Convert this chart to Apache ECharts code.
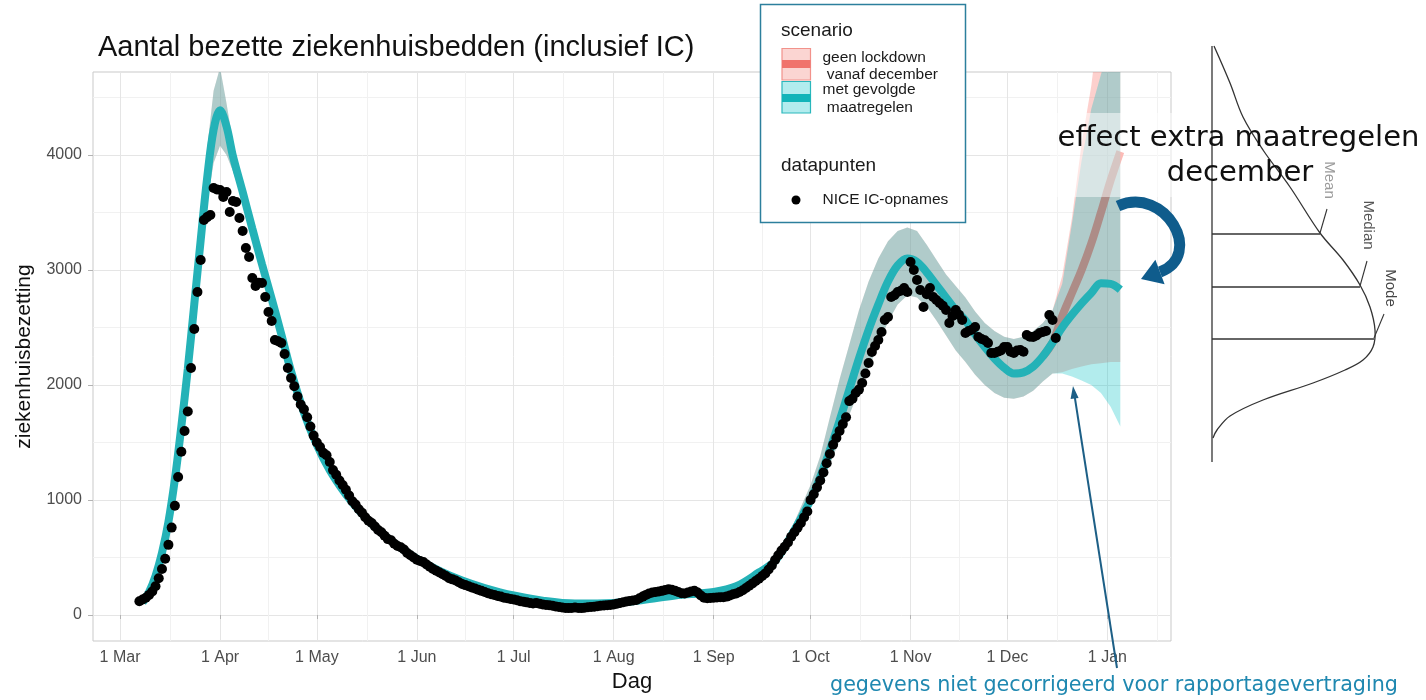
<!DOCTYPE html>
<html>
<head>
<meta charset="utf-8">
<script src="https://cdn.jsdelivr.net/npm/echarts@6/dist/echarts.min.js"></script>
<style>html,body{margin:0;padding:0;background:#fff}#chart{width:1426px;height:700px}</style>
</head>
<body>
<div id="chart"></div>
<script>
// ---------------- DATA ----------------
const DAY = 86400000;
const monthLabels = ['Jan','Feb','Mar','Apr','May','Jun','Jul','Aug','Sep','Oct','Nov','Dec'];
const xTickDates = ['2020-03-01','2020-04-01','2020-05-01','2020-06-01','2020-07-01','2020-08-01','2020-09-01','2020-10-01','2020-11-01','2020-12-01','2021-01-01','2021-02-01'];
const yTicks = [0, 1000, 2000, 3000, 4000];

// NICE datapoints, one value per day starting at this date
const dotStartDate = '2020-03-07';
const dotMar = [120,135,150,175,205,250,320,400,490,610,760,950,1200,1420,1600,1770,2148,2487,2809,3087,3435,3460,3478,3713,3700];
const dotApr = [3696,3635,3678,3504,3600,3591,3452,3339,3191,3113,2930,2861,2890,2887,2765,2635,2557,2391,2380,2365,2270,2148,2061,1990,1900,1830,1790,1720,1640,1560];
const dotMay = [1500,1460,1410,1390,1330,1260,1220,1170,1130,1090,1040,990,960,920,890,850,820,800,770,740,720,690,660,650,620,600,590,570,540,520,500];
const dotJun = [480,470,460,440,420,400,385,370,355,340,320,310,300,285,270,260,250,240,230,220,210,200,190,180,175,165,160,150,145,140];
const dotJul = [135,128,120,115,110,105,100,104,98,92,88,85,80,75,70,65,62,60,62,65,62,60,63,68,70,72,76,80,83,85,88];
const dotAug = [92,98,105,112,118,122,126,130,145,160,175,188,195,200,205,210,218,223,220,212,200,190,188,195,205,211,195,170,150,145,148];
const dotSep = [150,152,155,154,160,170,180,188,200,215,235,255,275,295,315,340,362,395,430,478,520,560,594,630,680,720,760,800,850,900];
const dotOct = [1000,1050,1110,1170,1240,1320,1400,1480,1540,1600,1660,1720,1860,1880,1930,1960,2017,2100,2191,2287,2340,2391,2461,2565,2591,2765,2780,2809,2820,2843,2809];
const dotNov = [3070,3000,2913,2826,2678,2790,2843,2765,2740,2713,2690,2652,2539,2600,2652,2610,2565,2452,2470,2480,2504,2417,2400,2390,2365,2278,2278,2290,2300,2330];
const dotDec = [2330,2290,2278,2300,2304,2290,2435,2420,2417,2430,2452,2461,2470,2609,2565,2409];

// model (shared by both scenarios until mid December)
const modelDates = ['2020-03-08','2020-03-10','2020-03-12','2020-03-14','2020-03-16','2020-03-18','2020-03-20','2020-03-22','2020-03-24','2020-03-26','2020-03-28','2020-03-30',
  '2020-04-01','2020-04-03','2020-04-05','2020-04-08','2020-04-11','2020-04-14','2020-04-17','2020-04-20','2020-04-23','2020-04-27',
  '2020-05-01','2020-05-05','2020-05-10','2020-05-15','2020-05-20','2020-05-25',
  '2020-06-01','2020-06-08','2020-06-15','2020-06-22','2020-07-01','2020-07-10','2020-07-20','2020-08-01','2020-08-10','2020-08-20',
  '2020-09-01','2020-09-08','2020-09-15','2020-09-20','2020-09-25',
  '2020-10-01','2020-10-04','2020-10-07','2020-10-10','2020-10-13','2020-10-16','2020-10-19','2020-10-22','2020-10-25','2020-10-28','2020-10-31',
  '2020-11-03','2020-11-06','2020-11-09','2020-11-12','2020-11-15','2020-11-18','2020-11-21','2020-11-24','2020-11-27','2020-11-30',
  '2020-12-03','2020-12-06','2020-12-09','2020-12-12','2020-12-15'];
const modelMedian = [110,200,340,540,810,1180,1640,2140,2700,3260,3800,4220,
  4390,4250,3990,3680,3360,3050,2750,2440,2120,1760,
  1480,1260,1050,880,740,625,
  490,385,300,235,170,125,100,105,130,170,
  200,250,370,470,690,
  1000,1200,1435,1690,1960,2230,2480,2700,2900,3040,3100,
  3070,2980,2870,2760,2650,2560,2440,2330,2230,2150,
  2100,2110,2160,2250,2370];
const modelLower = [100,185,318,508,765,1120,1560,2040,2570,3090,3580,3930,
  4080,4000,3860,3600,3280,2970,2680,2380,2070,1715,
  1445,1225,1018,852,717,602,
  472,370,287,224,160,116,91,96,119,156,
  186,234,348,443,648,
  940,1110,1310,1520,1740,1950,2150,2350,2550,2700,2780,
  2760,2680,2560,2430,2300,2200,2090,2000,1930,1890,
  1880,1900,1950,2030,2100];
const modelUpper = [120,215,362,572,855,1240,1720,2250,2840,3450,4060,4560,
  4760,4450,4110,3760,3440,3130,2820,2500,2170,1805,
  1515,1295,1082,908,763,648,
  508,400,313,246,180,134,109,116,143,184,
  216,268,395,505,745,
  1130,1380,1720,2050,2350,2650,2900,3100,3250,3340,3370,
  3340,3220,3090,2960,2860,2760,2640,2540,2470,2420,
  2400,2420,2470,2540,2650];

// projections after mid December
const tailDates = ['2020-12-18','2020-12-21','2020-12-24','2020-12-27','2020-12-30','2021-01-02','2021-01-05'];
const measuresMedian = [2500,2610,2710,2800,2885,2880,2830];   // met gevolgde maatregelen
const measuresLower  = [2100,2075,2040,2000,1930,1810,1640];
const measuresUpper  = [2880,3400,3950,4400,4700,5000,5350];
const noLockMedian   = [2600,2800,3000,3230,3500,3780,4030];   // geen lockdown vanaf december
const noLockLower    = [2110,2140,2160,2180,2190,2200,2200];
const noLockUpper    = [2950,3450,4100,4600,5300,6000,6600];

// ---------------- BUILD ----------------
const FONT = '"Liberation Sans", Arial, Helvetica, sans-serif';
const DJ = '"DejaVu Sans", Verdana, sans-serif';
const t = s => Date.parse(s + 'T00:00:00Z');
const dotValues = [].concat(dotMar, dotApr, dotMay, dotJun, dotJul, dotAug, dotSep, dotOct, dotNov, dotDec);
const dotT0 = t(dotStartDate);
const dots = dotValues.map((v, i) => [dotT0 + i * DAY, v]);

const majorX = xTickDates.map(t);
const majorXShown = majorX.slice(0, -1);
const minorX = majorX.slice(0, -1).map((v, i) => (v + majorX[i + 1]) / 2);

function rows(dates, a) { return dates.map((d, i) => [t(d), a[i]]); }
function band(dates, lo, hi) { return dates.map((d, i) => [t(d), lo[i], hi[i]]); }
const allDates = modelDates.concat(tailDates);
const measuresLine = rows(allDates, modelMedian.concat(measuresMedian));
const noLockLine = rows(modelDates.slice(-2).concat(tailDates), modelMedian.slice(-2).concat(noLockMedian));
const measuresBand = band(allDates, modelLower.concat(measuresLower), modelUpper.concat(measuresUpper));
const noLockBand = band(allDates, modelLower.concat(noLockLower), modelUpper.concat(noLockUpper));

function bandSeries(name, data, fill, z) {
  return {
    type: 'custom', name, data, silent: true, clip: true, z: z,
    encode: { x: 0, y: [1, 2] },
    renderItem(params, api) {
      if (params.dataIndex !== 0) return null;
      const top = data.map(p => api.coord([p[0], p[2]]));
      const bot = data.map(p => api.coord([p[0], p[1]])).reverse();
      const cs = params.coordSys;
      return {
        type: 'polygon',
        shape: { points: top.concat(bot) },
        style: { fill: fill },
        clipPath: { type: 'rect', shape: { x: cs.x, y: cs.y, width: cs.width, height: cs.height } }
      };
    }
  };
}

const txt = (text, x, y, size, color, align, extra, fam) => Object.assign({
  type: 'text', x: x, y: y, silent: true,
  style: { text: text, fill: color, font: size + 'px ' + (fam || FONT), align: align || 'left', verticalAlign: 'middle',
           textAlign: align || 'left', textVerticalAlign: 'middle' }
}, extra || {});

const arrowBlue = '#0f5c8c';

const graphics = [
  // legend box
  { type: 'rect', shape: { x: 760.5, y: 4.5, width: 205, height: 218 }, style: { fill: '#fff', stroke: '#2c7f9d', lineWidth: 1.5 }, z: 100 },
  txt('scenario', 781, 31, 19, '#1a1a1a', 'left', { z: 101 }),
  { type: 'rect', shape: { x: 782, y: 48.5, width: 28.5, height: 31.5 }, style: { fill: '#fbd5d2', stroke: '#f2928b', lineWidth: 1.2 }, z: 101 },
  { type: 'rect', shape: { x: 782, y: 60, width: 28.5, height: 8 }, style: { fill: '#f0736c' }, z: 102 },
  { type: 'rect', shape: { x: 782, y: 81.5, width: 28.5, height: 31.5 }, style: { fill: '#b2ecee', stroke: '#2ab7bc', lineWidth: 1.2 }, z: 101 },
  { type: 'rect', shape: { x: 782, y: 94, width: 28.5, height: 8 }, style: { fill: '#12b4b9' }, z: 102 },
  txt('geen lockdown', 822.5, 57.5, 15.5, '#1a1a1a', 'left', { z: 101 }),
  txt(' vanaf december', 822.5, 74.5, 15.5, '#1a1a1a', 'left', { z: 101 }),
  txt('met gevolgde', 822.5, 90, 15.5, '#1a1a1a', 'left', { z: 101 }),
  txt(' maatregelen', 822.5, 107.5, 15.5, '#1a1a1a', 'left', { z: 101 }),
  txt('datapunten', 781, 166, 19, '#1a1a1a', 'left', { z: 101 }),
  { type: 'circle', shape: { cx: 796, cy: 200, r: 4.5 }, style: { fill: '#000' }, z: 101 },
  txt('NICE IC-opnames', 822.5, 200, 15.5, '#1a1a1a', 'left', { z: 101 }),

  // semi-transparent box behind the annotation
  { type: 'rect', shape: { x: 1050, y: 113, width: 376, height: 84 }, style: { fill: 'rgba(255,255,255,0.5)' }, z: 90 },

  // distribution sketch
  { type: 'line', shape: { x1: 1212, y1: 46, x2: 1212, y2: 462 }, style: { stroke: '#333', lineWidth: 1.3 }, z: 95 },
  { type: 'polyline', shape: { smooth: 0.35, points: [[1214,46],[1230,83],[1243,117],[1263,150],[1290,187],[1320,233],[1343,260],[1360,285],[1370,307],[1375,330],[1373,347],[1363,360],[1345,370],[1313,383],[1263,400],[1230,416],[1217,430],[1213,438]] }, style: { stroke: '#333', lineWidth: 1.3, fill: null }, z: 95 },
  { type: 'line', shape: { x1: 1212, y1: 234, x2: 1320, y2: 234 }, style: { stroke: '#333', lineWidth: 1.3 }, z: 95 },
  { type: 'line', shape: { x1: 1212, y1: 287, x2: 1360, y2: 287 }, style: { stroke: '#333', lineWidth: 1.3 }, z: 95 },
  { type: 'line', shape: { x1: 1212, y1: 339, x2: 1374, y2: 339 }, style: { stroke: '#333', lineWidth: 1.3 }, z: 95 },
  { type: 'line', shape: { x1: 1320, y1: 233, x2: 1327, y2: 209 }, style: { stroke: '#333', lineWidth: 1.1 }, z: 95 },
  { type: 'line', shape: { x1: 1360, y1: 286, x2: 1367, y2: 261 }, style: { stroke: '#333', lineWidth: 1.1 }, z: 95 },
  { type: 'line', shape: { x1: 1374, y1: 338, x2: 1384, y2: 314 }, style: { stroke: '#333', lineWidth: 1.1 }, z: 95 },
  txt('Mean', 1329, 180, 15, '#9a9a9a', 'center', { rotation: -Math.PI / 2, z: 96 }),
  txt('Median', 1368, 225, 15, '#555', 'center', { rotation: -Math.PI / 2, z: 96 }),
  txt('Mode', 1390, 288, 15, '#444', 'center', { rotation: -Math.PI / 2, z: 96 }),

  // annotation text
  txt('effect extra maatregelen', 1238.5, 138, 29, '#111', 'center', { z: 97 }, DJ),
  txt('december', 1240, 173, 29, '#111', 'center', { z: 97 }, DJ),

  // curved arrow
  { type: 'bezierCurve', shape: { x1: 1118, y1: 206, cpx1: 1165, cpy1: 185, cpx2: 1205, cpy2: 255, x2: 1160, y2: 272 }, style: { stroke: arrowBlue, lineWidth: 11, fill: null }, z: 98 },
  { type: 'polygon', shape: { points: [[1141, 279], [1164.6, 284.2], [1155.4, 259.8]] }, style: { fill: arrowBlue }, z: 98 },

  // straight arrow + note
  { type: 'line', shape: { x1: 1117, y1: 668, x2: 1074.6, y2: 396 }, style: { stroke: '#1d5f86', lineWidth: 2 }, z: 98 },
  { type: 'polygon', shape: { points: [[1073, 386], [1078.6, 398], [1070.6, 399]] }, style: { fill: '#1d5f86' }, z: 98 },
  txt('gegevens niet gecorrigeerd voor rapportagevertraging', 830, 686, 20.7, '#1f88b0', 'left', { z: 98 }, DJ)
];

const xMin = Date.UTC(2020, 1, 21, 15), xMax = Date.UTC(2021, 0, 20, 17);

const chart = echarts.init(document.getElementById('chart'), null, { renderer: 'canvas' });
chart.setOption({
  animation: false,
  backgroundColor: '#ffffff',
  title: {
    text: 'Aantal bezette ziekenhuisbedden (inclusief IC)', left: 93, top: 28,
    textStyle: { fontFamily: FONT, fontSize: 29, fontWeight: 'normal', color: '#111' }
  },
  grid: { left: 93, right: 255, top: 72, bottom: 59, show: true, borderColor: '#c9c9c9', borderWidth: 1, backgroundColor: 'rgba(0,0,0,0)', containLabel: false, outerBoundsMode: 'none' },
  xAxis: [{
    type: 'value', min: xMin, max: xMax, scale: true,
    axisLine: { show: false },
    axisTick: { show: true, length: 4, lineStyle: { color: '#b3b3b3' }, customValues: majorXShown },
    axisLabel: {
      color: '#4d4d4d', fontSize: 16, fontFamily: FONT, margin: 9, hideOverlap: false, customValues: majorXShown,
      formatter: v => { const d = new Date(v); return d.getUTCDate() + ' ' + monthLabels[d.getUTCMonth()]; }
    },
    splitLine: { show: true, lineStyle: { color: '#e5e5e5', width: 1 } },
    name: 'Dag', nameLocation: 'middle', nameGap: 27,
    nameTextStyle: { fontFamily: FONT, fontSize: 22, color: '#111' }
  }, {
    type: 'value', min: xMin, max: xMax, scale: true, position: 'bottom',
    axisLine: { show: false },
    axisTick: { show: false, customValues: minorX },
    axisLabel: { show: false, customValues: minorX },
    splitLine: { show: true, lineStyle: { color: '#f1f1f1', width: 1 } }
  }],
  yAxis: {
    type: 'value', min: -226, max: 4722, splitNumber: 5,
    axisLine: { show: false },
    axisTick: { show: true, length: 5, lineStyle: { color: '#b3b3b3' }, customValues: yTicks },
    axisLabel: { color: '#4d4d4d', fontSize: 16, fontFamily: FONT, margin: 11, customValues: yTicks,
      formatter: v => String(Math.round(v)) },
    splitLine: { show: true, lineStyle: { color: '#e5e5e5', width: 1 } },
    minorTick: { show: false, splitNumber: 2 },
    minorSplitLine: { show: true, lineStyle: { color: '#f1f1f1', width: 1 } },
    name: 'ziekenhuisbezetting', nameLocation: 'middle', nameGap: 58,
    nameTextStyle: { fontFamily: FONT, fontSize: 21, color: '#111' }
  },
  series: [
    bandSeries('geen lockdown band', noLockBand, 'rgba(248,118,109,0.34)', 2),
    { type: 'line', name: 'geen lockdown vanaf december', data: noLockLine, smooth: 0.35, showSymbol: false, silent: true, z: 3,
      lineStyle: { color: '#F8766D', width: 8, cap: 'butt' } },
    bandSeries('met gevolgde maatregelen band', measuresBand, 'rgba(0,191,196,0.30)', 4),
    { type: 'line', name: 'met gevolgde maatregelen', data: measuresLine, smooth: 0.35, showSymbol: false, silent: true, z: 5,
      lineStyle: { color: '#24b2b7', width: 8, cap: 'butt' } },
    { type: 'scatter', name: 'NICE IC-opnames', data: dots, symbol: 'circle', symbolSize: 10, silent: true, z: 6,
      itemStyle: { color: '#000', opacity: 1 } }
  ],
  graphic: { elements: graphics }
});
</script>
</body>
</html>
